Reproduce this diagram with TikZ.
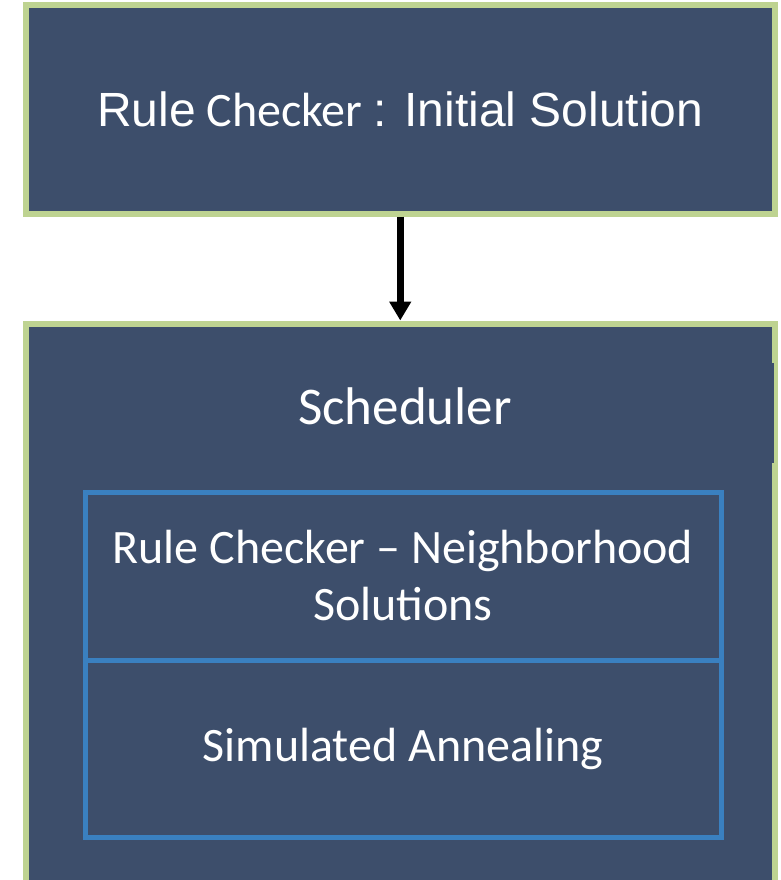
\documentclass[tikz,border=0pt]{standalone}
\usepackage{fontspec}
\setmainfont{Carlito}
\newfontfamily\arialfont{Liberation Sans}
\usetikzlibrary{arrows.meta}
\definecolor{boxfill}{RGB}{61,78,107}
\definecolor{boxgreen}{RGB}{190,211,145}
\definecolor{boxblue}{RGB}{58,128,192}

\begin{document}
\begin{tikzpicture}[x=1pt, y=-1pt,
								outer/.style = {rectangle, draw = boxgreen, fill = 
								boxfill, line width = 6pt, inner sep = 0pt},
								inner/.style = {rectangle, draw = boxblue, line width = 5pt,
								inner sep = 0pt, minimum width = 636pt, text = white,
								align = center, font = \fontsize{48}{57}\selectfont}]
				\useasboundingbox (0,0) rectangle (781,880);
				\clip (0,0) rectangle (781,880);

				\node [outer, minimum width = 748.5pt, minimum height = 208pt,
				text = white, font = \fontsize{48}{54}\selectfont] (init) at (400.25,109.5)
				{{\arialfont Rule} Checker {\arialfont : Initial Solution}};

				\node [outer, minimum width = 748.5pt, minimum height = 600pt] (sched) at (400.25,623.5) {};
				\fill [boxfill] (771,363) rectangle (774,463);
				\node [text = white, font = \fontsize{53}{60}\selectfont] (title) at (405,406) {Scheduler};

				\node [inner, minimum height = 168pt] (rc) at (403,576)
				{Rule Checker -- Neighborhood\\Solutions};
				\node [inner, minimum height = 177pt] (sa) at (403,748.5) {Simulated Annealing};

				\draw [line width = 7pt, -{Triangle[length = 19pt, width = 21pt]}] (init) -- (sched);
			\end{tikzpicture}
\end{document}
